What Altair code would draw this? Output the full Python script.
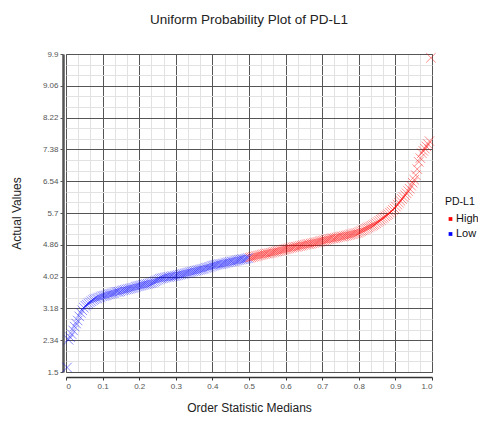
import altair as alt
import pandas as pd

# Sorted PD-L1 values (ascending order)
pd_l1_values = [
    1.62, 2.35, 2.42, 2.50, 2.60, 2.70, 2.78, 2.86, 2.97, 3.06, 3.13, 3.20,
    3.25, 3.28, 3.31, 3.34, 3.37, 3.40, 3.42, 3.44, 3.45, 3.47, 3.48, 3.50,
    3.51, 3.52, 3.53, 3.55, 3.56, 3.57, 3.58, 3.59, 3.61, 3.62, 3.62, 3.63,
    3.65, 3.66, 3.67, 3.68, 3.69, 3.70, 3.71, 3.72, 3.73, 3.75, 3.76, 3.77,
    3.78, 3.79, 3.80, 3.81, 3.82, 3.83, 3.84, 3.85, 3.86, 3.88, 3.90, 3.92,
    3.94, 3.96, 3.97, 3.98, 3.99, 4.00, 4.01, 4.01, 4.02, 4.03, 4.03, 4.04,
    4.05, 4.06, 4.07, 4.08, 4.09, 4.10, 4.11, 4.12, 4.13, 4.14, 4.15, 4.16,
    4.17, 4.18, 4.19, 4.20, 4.21, 4.22, 4.23, 4.25, 4.26, 4.27, 4.28, 4.30,
    4.31, 4.32, 4.33, 4.34, 4.35, 4.35, 4.36, 4.37, 4.38, 4.39, 4.40, 4.41,
    4.42, 4.42, 4.43, 4.44, 4.45, 4.46, 4.47, 4.48, 4.48, 4.49, 4.50, 4.51,
    4.52, 4.53, 4.54, 4.55, 4.56, 4.57, 4.58, 4.59, 4.60, 4.61, 4.62, 4.63,
    4.63, 4.64, 4.65, 4.66, 4.67, 4.68, 4.69, 4.70, 4.71, 4.72, 4.73, 4.74,
    4.75, 4.76, 4.77, 4.78, 4.79, 4.80, 4.81, 4.81, 4.82, 4.83, 4.84, 4.85,
    4.86, 4.87, 4.88, 4.88, 4.89, 4.90, 4.91, 4.92, 4.93, 4.94, 4.95, 4.96,
    4.97, 4.98, 4.99, 5.00, 5.01, 5.02, 5.03, 5.03, 5.04, 5.05, 5.06, 5.07,
    5.08, 5.08, 5.09, 5.10, 5.11, 5.12, 5.13, 5.14, 5.15, 5.16, 5.17, 5.18,
    5.20, 5.22, 5.24, 5.26, 5.28, 5.30, 5.32, 5.34, 5.36, 5.38, 5.40, 5.43,
    5.46, 5.49, 5.52, 5.55, 5.58, 5.61, 5.64, 5.67, 5.71, 5.74, 5.78, 5.82,
    5.87, 5.92, 5.97, 6.02, 6.07, 6.12, 6.17, 6.22, 6.28, 6.34,
    6.42, 6.50, 6.58, 6.70, 6.86, 7.05, 7.15, 7.28, 7.34, 7.40, 7.46, 7.52,
    7.60, 9.80,
]

groups = ["High", "Low"]
group_colors = ["#ff0000", "#0000ff"]

x_major = [0, 0.1, 0.2, 0.3, 0.4, 0.5, 0.6, 0.7, 0.8, 0.9, 1.0]
x_minor = [0.0333, 0.0667, 0.1333, 0.1667, 0.2333, 0.2667, 0.3333, 0.3667,
           0.4333, 0.4667, 0.5333, 0.5667, 0.6333, 0.6667, 0.7333, 0.7667,
           0.8333, 0.8667, 0.9333, 0.9667]
y_major = [1.5, 2.34, 3.18, 4.02, 4.86, 5.7, 6.54, 7.38, 8.22, 9.06, 9.9]
y_minor = [1.78, 2.06, 2.62, 2.9, 3.46, 3.74, 4.3, 4.58, 5.14, 5.42, 5.98,
           6.26, 6.82, 7.1, 7.66, 7.94, 8.5, 8.78, 9.34, 9.62]

df = pd.DataFrame({"value": pd_l1_values})

FONT = "Liberation Sans"

base = alt.Chart(df).transform_window(
    rank="row_number()", sort=[alt.SortField("value")]
).transform_joinaggregate(
    n="count()"
).transform_calculate(
    osm="datum.rank == datum.n ? pow(0.5, 1/datum.n) : (datum.rank == 1 ? 1 - pow(0.5, 1/datum.n) : (datum.rank - 0.3175) / (datum.n + 0.365))",
    group="datum.rank <= datum.n / 2 ? 'Low' : 'High'",
)

xscale = alt.Scale(domain=[0, 1], nice=False, zero=False)
yscale = alt.Scale(domain=[1.5, 9.9], nice=False, zero=False)

minor = base.mark_point(opacity=0).encode(
    x=alt.X("osm:Q", scale=xscale,
            axis=alt.Axis(orient="top", values=x_minor, grid=True,
                          gridColor="#e2e2e2", gridWidth=1, labels=False,
                          ticks=False, domain=False, title=None)),
    y=alt.Y("value:Q", scale=yscale,
            axis=alt.Axis(orient="right", values=y_minor, grid=True,
                          gridColor="#e2e2e2", gridWidth=1, labels=False,
                          ticks=False, domain=False, title=None)),
)

legend = alt.Legend(title="PD-L1", orient="none", legendX=379, legendY=143,
                    symbolType="square", symbolSize=14, symbolStrokeWidth=0,
                    labelFontSize=11, labelFont=FONT, titleFont=FONT,
                    titleFontSize=10.5, titleFontWeight="normal",
                    titleColor="#111", labelColor="#111", labelOffset=0,
                    rowPadding=3, titlePadding=6, padding=0)

main = base.mark_point(
    shape="M-1,-1L1,1M-1,1L1,-1",
    size=90,
    filled=False,
    strokeWidth=1,
    strokeOpacity=0.45,
    fillOpacity=1,
).encode(
    x=alt.X("osm:Q", scale=xscale,
            axis=alt.Axis(orient="bottom", values=x_major, grid=True,
                          gridColor="#555555", gridWidth=1,
                          labelExpr="datum.value == 0 ? '0' : format(datum.value, '.1f')",
                          labelFontSize=8, labelColor="#555", labelFont=FONT,
                          tickSize=3, tickColor="#333", domainColor="#333",
                          domainWidth=1.5, offset=5, labelPadding=2,
                          title="Order Statistic Medians", titleFontSize=12,
                          titleFontWeight="normal", titleFont=FONT,
                          titleColor="#222", titlePadding=12)),
    y=alt.Y("value:Q", scale=yscale,
            axis=alt.Axis(orient="left", values=y_major, grid=True,
                          gridColor="#555555", gridWidth=1, format=".3~g",
                          labelFontSize=8, labelColor="#555", labelFont=FONT,
                          tickSize=3, tickColor="#555", domainColor="#555",
                          domainWidth=2.5, offset=3, labelPadding=2,
                          title="Actual Values", titleFontSize=12,
                          titleFontWeight="normal", titleFont=FONT,
                          titleColor="#222", titlePadding=19)),
    color=alt.Color("group:N", scale=alt.Scale(domain=groups, range=group_colors),
                    legend=legend),
    fill=alt.Fill("group:N", scale=alt.Scale(domain=groups, range=group_colors),
                  legend=legend),
)

chart = alt.layer(minor, main).resolve_axis(
    x="independent", y="independent"
).properties(
    width=366,
    height=318,
    title=alt.TitleParams("Uniform Probability Plot of PD-L1", fontSize=13.5,
                          fontWeight="normal", font=FONT, color="#222",
                          offset=24, anchor="middle"),
    autosize=alt.AutoSizeParams(type="none"),
    padding={"left": 58, "top": 46, "right": 46, "bottom": 42},
).configure_view(
    stroke="#888", strokeWidth=1
)

chart.save("out.html", embed_options={"renderer": "svg", "actions": False})
